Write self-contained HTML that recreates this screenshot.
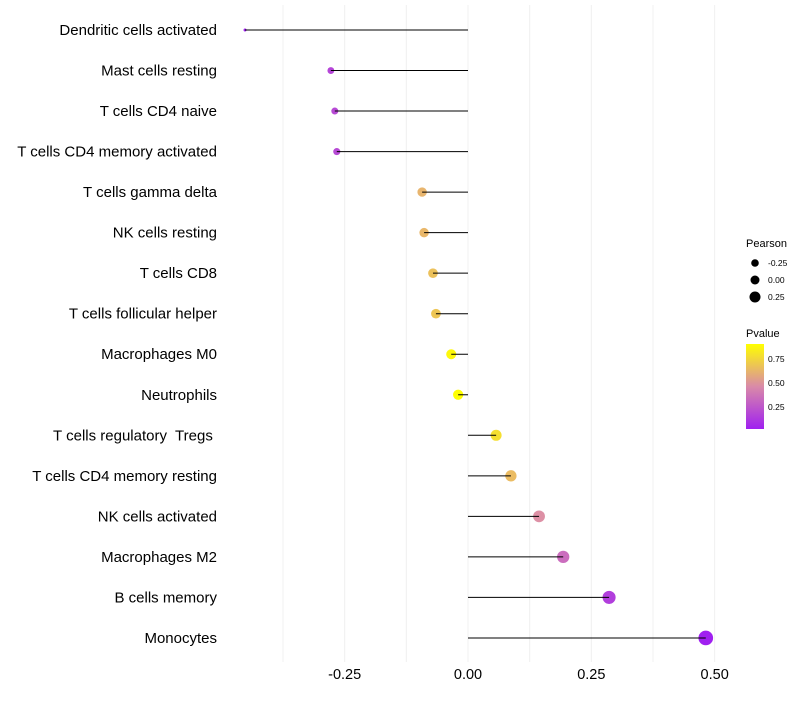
<!DOCTYPE html>
<html><head><meta charset="utf-8"><style>
body{margin:0;background:#fff;font-family:"Liberation Sans",sans-serif}
</style></head><body>
<svg id="chart" width="800" height="700" xmlns="http://www.w3.org/2000/svg" font-family="Liberation Sans, sans-serif">
<defs><linearGradient id="pg" x1="0" y1="1" x2="0" y2="0">
<stop offset="0" stop-color="#a020f0"/><stop offset="0.5" stop-color="#d98aa8"/><stop offset="1" stop-color="#ffff00"/></linearGradient></defs>
<g id="grid"></g>
<g id="marks"></g>
<g id="ylabels"></g>
<g id="xlabels"></g>
<g>
<text x="746" y="247" font-size="11" fill="#000">Pearson</text>
<circle cx="755" cy="263" r="3.8" fill="#000"/><text x="768" y="266" font-size="8.5">-0.25</text>
<circle cx="755" cy="280" r="4.5" fill="#000"/><text x="768" y="283" font-size="8.5">0.00</text>
<circle cx="755" cy="297" r="5.5" fill="#000"/><text x="768" y="300" font-size="8.5">0.25</text>
</g>
<g>
<text x="746" y="337" font-size="11" fill="#000">Pvalue</text>
<rect x="746" y="344" width="18" height="85" fill="url(#pg)"/>
<text x="768" y="362" font-size="8.5">0.75</text>
<text x="768" y="386" font-size="8.5">0.50</text>
<text x="768" y="410" font-size="8.5">0.25</text>
</g>
</svg>
<script>
const categories=["Dendritic cells activated","Mast cells resting","T cells CD4 naive","T cells CD4 memory activated","T cells gamma delta","NK cells resting","T cells CD8","T cells follicular helper","Macrophages M0","Neutrophils","T cells regulatory  Tregs ","T cells CD4 memory resting","NK cells activated","Macrophages M2","B cells memory","Monocytes"];
const pearson=[-0.452,-0.278,-0.27,-0.266,-0.093,-0.089,-0.071,-0.065,-0.034,-0.02,0.057,0.087,0.144,0.193,0.286,0.482];
const pvalue=[0.02,0.18,0.2,0.2,0.65,0.66,0.7,0.72,0.92,0.97,0.82,0.68,0.5,0.35,0.15,0.01];
const xTicks=[-0.25,0,0.25,0.5];
const xTickLabels=["-0.25","0.00","0.25","0.50"];
const NS="http://www.w3.org/2000/svg";
const x=v=>468+v*493.3;
const y=i=>30+i*40.53;
function mk(t,a,p){const e=document.createElementNS(NS,t);for(const k in a)e.setAttribute(k,a[k]);p.appendChild(e);return e;}
function lerp(a,b,t){return a.map((v,i)=>Math.round(v+(b[i]-v)*t));}
function col(p){const c0=[160,32,240],c1=[220,140,170],c2=[255,255,0];const t=Math.max(0,Math.min(1,(p-0.02)/0.93));const c=t<0.5?lerp(c0,c1,t*2):lerp(c1,c2,(t-0.5)*2);return`rgb(${c})`;}
const vmin=Math.min(...pearson);
const rad=v=>Math.sqrt(2.25+55*(v-vmin));
const g=document.getElementById('grid'),m=document.getElementById('marks'),yl=document.getElementById('ylabels'),xl=document.getElementById('xlabels');
for(let v=-0.375;v<=0.5001;v+=0.125){const l=mk('line',{x1:x(v),x2:x(v),y1:5,y2:662,stroke:'#f0f0f0','stroke-width':1},g);}
xTicks.forEach((v,i)=>{const t=mk('text',{x:x(v),y:679,'font-size':14.5,'text-anchor':'middle',fill:'#000'},xl);t.textContent=xTickLabels[i];});
categories.forEach((c,i)=>{
const t=mk('text',{x:217,y:y(i)+5,'font-size':15,'text-anchor':'end',fill:'#000'},yl);t.textContent=c;t.setAttribute('xml:space','preserve');t.style.whiteSpace='pre';

const p=mk('circle',{cx:x(pearson[i]),cy:y(i),r:rad(pearson[i]),fill:col(pvalue[i])},m);

const l=mk('line',{x1:x(0),x2:x(pearson[i]),y1:y(i),y2:y(i),stroke:'#000','stroke-width':1},m);

});
</script>
</body></html>
